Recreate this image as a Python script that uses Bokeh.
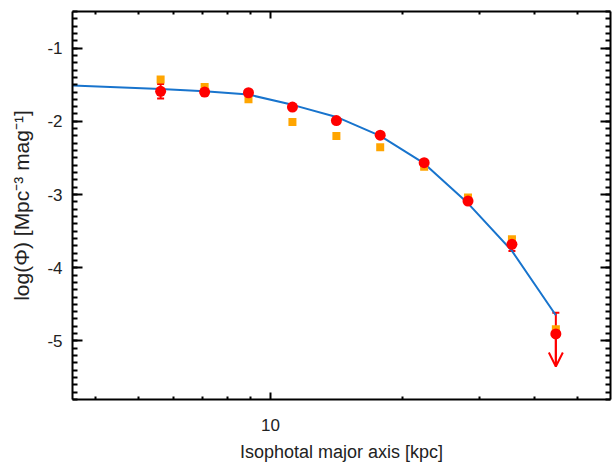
from bokeh.plotting import figure
from bokeh.models import (ColumnDataSource, LogAxis, LinearAxis, FixedTicker,
                          Whisker, TeeHead, Arrow, OpenHead, Range1d,
                          CustomJSTickFormatter)
from bokeh.embed import file_html
from bokeh.resources import INLINE

# ---- data ----
size_kpc = [5.62, 7.08, 8.91, 11.22, 14.13, 17.78, 22.39, 28.18, 35.48, 44.67]
phi_red = [-1.59, -1.60, -1.61, -1.805, -1.99, -2.19, -2.565, -3.09, -3.68, -4.905]
phi_err = [0.10, 0.05, 0.03, 0.03, 0.03, 0.03, 0.03, 0.04, 0.09, 0.29]
phi_orange = [-1.43, -1.53, -1.70, -2.01, -2.20, -2.355, -2.62, -3.04, -3.61, -4.84]

model_x = [3.54, 5.62, 7.08, 8.91, 11.22, 14.13, 17.78, 22.39, 28.18, 35.48, 44.67]
model_y = [-1.51, -1.56, -1.59, -1.635, -1.775, -1.94, -2.20, -2.575, -3.12, -3.77, -4.65]

upper_limit_end = -5.35   # arrow tip of the last (upper-limit) point

x_major = [10]
x_labels = {10: "10"}
x_minor = [3, 4, 5, 6, 7, 8, 9, 20, 30, 40, 50, 60]
y_major = [-5, -4, -3, -2, -1]
y_labels = {-5: "-5", -4: "-4", -3: "-3", -2: "-2", -1: "-1"}
y_minor = [v / 10 for v in range(-60, -4)]

FONT = "Liberation Sans"
TXT = "#222222"

p = figure(width=613, height=464, x_axis_type="log",
           x_range=Range1d(3.54, 59.5), y_range=Range1d(-5.8, -0.5),
           output_backend="svg", toolbar_location=None,
           min_border_left=72, min_border_right=3, min_border_top=11, min_border_bottom=65)
p.grid.visible = False
p.outline_line_color = None
p.background_fill_color = "white"
p.border_fill_color = "white"


def style(ax, major_len, minor_len, labels=True):
    ax.axis_line_width = 2
    ax.axis_line_color = "black"
    ax.major_tick_line_width = 2
    ax.minor_tick_line_width = 2
    ax.major_tick_line_color = "black"
    ax.minor_tick_line_color = "black"
    ax.major_tick_in = major_len
    ax.major_tick_out = 0
    ax.minor_tick_in = minor_len
    ax.minor_tick_out = 0
    if labels:
        ax.major_label_text_font = FONT
        ax.major_label_text_font_size = "17px"
        ax.major_label_text_color = TXT
        ax.axis_label_text_font = FONT
        ax.axis_label_text_font_style = "normal"
        ax.axis_label_text_color = TXT
    else:
        ax.formatter = CustomJSTickFormatter(code="return ''")
        ax.major_label_text_font_size = "1px"
        ax.major_label_standoff = 0


xt = FixedTicker(ticks=x_major, minor_ticks=x_minor)
yt = FixedTicker(ticks=y_major, minor_ticks=y_minor)

xa = p.xaxis[0]
xa.ticker = xt
xa.major_label_overrides = x_labels
xa.axis_label = "Isophotal major axis [kpc]"
style(xa, 7, 3)
xa.axis_label_text_font_size = "18px"
xa.major_label_standoff = 19
xa.axis_label_standoff = 8

ya = p.yaxis[0]
ya.ticker = yt
ya.major_label_overrides = y_labels
ya.axis_label = "log(Φ) [Mpc⁻³ mag⁻¹]"
style(ya, 10, 5)
ya.axis_label_text_font_size = "21px"
ya.major_label_standoff = 10
ya.axis_label_standoff = 11

top = LogAxis(ticker=xt)
style(top, 7, 3, labels=False)
p.add_layout(top, "above")
right = LinearAxis(ticker=yt)
style(right, 10, 5, labels=False)
p.add_layout(right, "right")

# model curve
p.line(model_x, model_y, line_color="#1874CD", line_width=2)

# orange squares
p.scatter(size_kpc, phi_orange, marker="square", size=8, fill_color="orange",
          line_color=None)

# error bars (all but the last point, which is an upper limit)
lower = [v - e for v, e in zip(phi_red, phi_err)]
upper = [v + e for v, e in zip(phi_red, phi_err)]
src = ColumnDataSource(dict(x=size_kpc[:-1], lo=lower[:-1], hi=upper[:-1]))
p.add_layout(Whisker(source=src, base="x", lower="lo", upper="hi",
                     line_color="red", line_width=2,
                     upper_head=TeeHead(size=7, line_color="red", line_width=2),
                     lower_head=TeeHead(size=7, line_color="red", line_width=2)))

# upper limit point
src_ul = ColumnDataSource(dict(x=size_kpc[-1:], lo=[upper_limit_end], hi=upper[-1:]))
p.add_layout(Whisker(source=src_ul, base="x", lower="lo", upper="hi",
                     line_color="red", line_width=2,
                     upper_head=TeeHead(size=7, line_color="red", line_width=2),
                     lower_head=None))
p.add_layout(Arrow(x_start=size_kpc[-1], y_start=phi_red[-1],
                   x_end=size_kpc[-1], y_end=upper_limit_end,
                   line_color="red", line_width=2,
                   end=OpenHead(size=14, line_color="red", line_width=2)))

# red circles
p.scatter(size_kpc, phi_red, marker="circle", size=11, fill_color="red",
          line_color=None)

open("out.html", "w").write(file_html(p, INLINE))
